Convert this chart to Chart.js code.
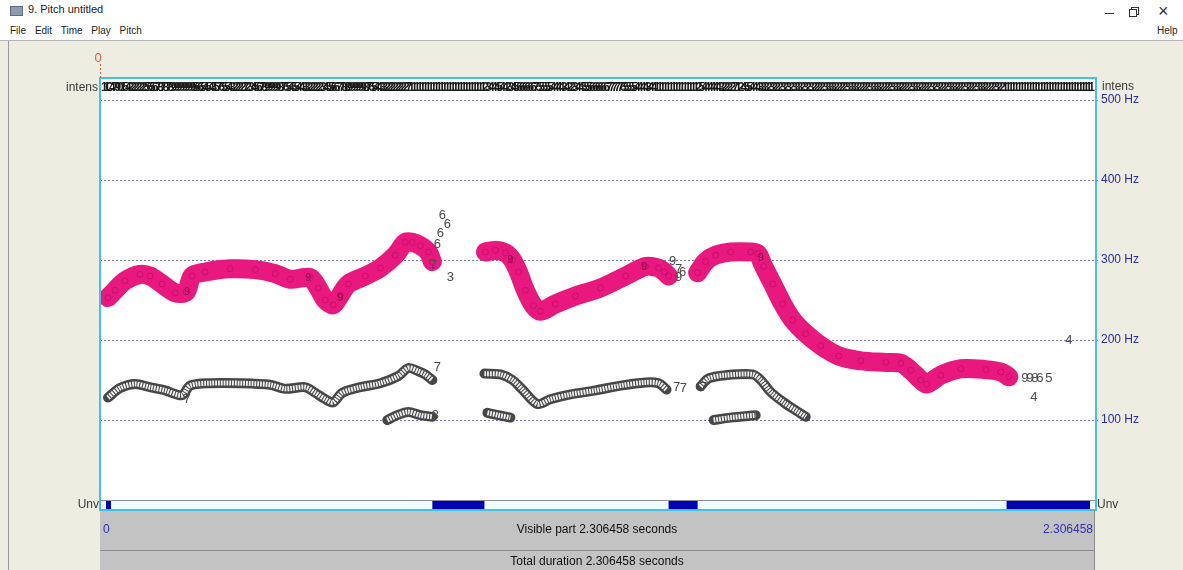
<!DOCTYPE html>
<html>
<head>
<meta charset="utf-8">
<title>9. Pitch untitled</title>
<script src="https://cdn.jsdelivr.net/npm/chart.js@4.4.1/dist/chart.umd.min.js"></script>
<style>
  html, body { margin: 0; padding: 0; width: 1183px; height: 570px; overflow: hidden;
    background: #eeede2; font-family: "Liberation Sans", Arial, sans-serif; }
  #titlebar { position: absolute; left: 0; top: 0; width: 1183px; height: 40px; background: #fff;
    border-bottom: 1px solid #b4b4b4; }
  #icon { position: absolute; left: 10px; top: 6px; width: 11px; height: 8px; background: #8d9bb0;
    border: 1px solid #5d6a80; }
  #title { position: absolute; left: 28px; top: 3px; font-size: 11px; color: #222; }
  #menu { position: absolute; left: 10px; top: 25px; font-size: 10px; color: #222; word-spacing: 6px; }
  #help { position: absolute; left: 1157px; top: 25px; font-size: 10px; color: #222; }
  #minbtn { position: absolute; left: 1105px; top: 13px; width: 9px; height: 1px; background: #333; }
  #maxbtn1 { position: absolute; left: 1131px; top: 7px; width: 6px; height: 6px; border: 1px solid #333; }
  #maxbtn2 { position: absolute; left: 1129px; top: 9px; width: 6px; height: 6px; border: 1px solid #333; background: #fff; }
  #closebtn { position: absolute; left: 1158px; top: 1px; font-size: 18px; color: #333; }
  #leftedge { position: absolute; left: 8px; top: 41px; width: 1px; height: 529px; background: #9a9a9a; }
  #chart { position: absolute; left: 0; top: 0; }
</style>
</head>
<body>
<div id="titlebar">
  <div id="icon"></div>
  <div id="title">9. Pitch untitled</div>
  <div id="menu">File Edit Time Play Pitch</div>
  <div id="help">Help</div>
  <div id="minbtn"></div>
  <div id="maxbtn1"></div>
  <div id="maxbtn2"></div>
  <div id="closebtn">×</div>
</div>
<div id="leftedge"></div>
<canvas id="chart" width="1183" height="570"></canvas>
<script>
// ---- time / frequency range of the pitch window ----
const totalDuration = 2.306458;
const hzTop = 527.5;
const hzTicks = [100, 200, 300, 400, 500];

// ---- selected pitch path (voiced stretches), seconds / Hz ----
const pathTimes1 = [0.0185, 0.0348, 0.058, 0.0927, 0.1159, 0.1437, 0.1739, 0.1994, 0.2133, 0.2434, 0.3014,
  0.3593, 0.4057, 0.4404, 0.4868, 0.5053, 0.5216, 0.5401, 0.5563, 0.5749, 0.6143, 0.6491, 0.6839, 0.707,
  0.7233, 0.7418, 0.7603, 0.7696];
const pathHz1 = [253, 262, 274, 282, 280, 270, 259, 260, 280, 285, 289,
  288, 283, 276, 278, 265, 250, 244, 256, 270, 280, 290, 306, 322,
  322, 318, 310, 298];

const pathTimes2 = [0.8925, 0.9157, 0.9388, 0.9551, 0.969, 0.9852, 1.0038, 1.02, 1.0547, 1.1011, 1.159,
  1.217, 1.2634, 1.2935, 1.3074, 1.3167];
const pathHz2 = [310, 312, 309, 300, 285, 262, 243, 236, 245, 255, 265,
  280, 292, 290, 285, 280];

const pathTimes3 = [1.3839, 1.4024, 1.4256, 1.4604, 1.5067, 1.523, 1.5369, 1.5578, 1.581, 1.6042, 1.6343,
  1.6691, 1.7108, 1.7618, 1.8197, 1.8545, 1.8777, 1.9008, 1.9148, 1.9472, 1.9936, 2.0515, 2.0863, 2.1048];
const pathHz3 = [284, 298, 306, 310, 310, 308, 292, 270, 245, 225, 208,
  193, 180, 174, 172, 171, 162, 150, 145, 156, 164, 163, 160, 154];

// ---- unselected candidates (sub-harmonic chains), seconds / Hz ----
const candTimesA = [0.0185, 0.0464, 0.0811, 0.1159, 0.1507, 0.1901, 0.2086, 0.255, 0.3245, 0.3941, 0.4289,
  0.4752, 0.4984, 0.5216, 0.5401, 0.561, 0.6027, 0.6491, 0.6908, 0.714, 0.7372, 0.7534, 0.7696];
const candHzA = [128, 140, 145, 141, 137, 131, 143, 146, 146, 144, 139,
  141, 134, 126, 122, 134, 141, 146, 155, 165, 161, 157, 150];

const candTimesA2 = [0.6653, 0.6885, 0.714, 0.7418, 0.7696];
const candHzA2 = [100, 106, 110, 106, 104];

const candTimesB = [0.8902, 0.9272, 0.9551, 0.9783, 1.013, 1.0431, 1.0895, 1.1475, 1.2054, 1.2634, 1.2935, 1.312];
const candHzB = [158, 157, 150, 138, 120, 126, 132, 137, 143, 147, 146, 138];

const candTimesB2 = [0.8971, 0.9226, 0.9504];
const candHzB2 = [109, 106, 103];

const candTimesC = [1.3909, 1.4094, 1.4488, 1.5114, 1.53, 1.5531, 1.5833, 1.6111, 1.6343];
const candHzC = [142, 152, 156, 157, 150, 135, 122, 112, 104];

const candTimesC2 = [1.421, 1.4604, 1.5184];
const candHzC2 = [100, 103, 106];

// ---- isolated candidate strengths written as digits ----
const strayTimes = [0.7928, 0.8044, 0.7882, 0.7812, 0.772, 0.8113, 1.326, 1.34, 1.349, 1.34,
  2.1418, 2.1534, 2.165, 2.1766, 2.1974, 2.1628, 2.2439,
  0.7812, 0.7766, 0.2017, 1.335, 1.351, 1.3979];
const strayHz = [356, 344, 333, 320, 293, 278, 298, 288, 285, 278,
  152, 152, 152, 152, 152, 128, 200,
  166, 106, 126, 141, 140, 141];
const strayDigits = ['6', '6', '6', '6', '7', '3', '9', '7', '6', '9',
  '9', '9', '8', '6', '5', '4', '4',
  '7', '3', '7', '7', '7', '7'];

// strengths printed inside the selected path
const pathMarkTimes = [0.2017, 0.482, 0.5563, 0.95, 1.53, 1.26];
const pathMarkHz = [260, 278, 252, 300, 303, 291];
const pathMarkDigits = ['9', '9', '9', '9', '9', '9'];

// ---- intensity row: one digit per analysis frame, grouped by stretch ----
const intensStart = [0.007, 0.7186, 0.8902, 1.2866, 1.3839, 2.0932];
const intensEnd = [0.7186, 0.8902, 1.2866, 1.3839, 2.0932, 2.2995];
const intensText = [
  '11C4790154222222565678787899999999566545435765543222272345678999998765455443322222345566778899999987654433222222227',
  '111111111111111111111111111',
  '2344454423456666667555554444342234455566666677777655554444344',
  '111111111111111',
  '2544444432222712455444333232223232333232322223333222233332222333322223332222333222232322233322232223332222322',
  '11111111111111111111111111111111'
];

// ---- unvoiced intervals ----
const unvStart = [0.0139, 0.7696, 1.3167, 2.0993];
const unvEnd = [0.0255, 0.8902, 1.3839, 2.2926];

const FONT = '"Liberation Sans", Arial, sans-serif';
const pts = (ts, fs) => ts.map((t, i) => ({ x: t, y: fs[i] }));

function pathSet(ts, fs) {
  return { data: pts(ts, fs), showLine: true, borderColor: '#e8187e', backgroundColor: '#e8187e',
    borderWidth: 19, borderCapStyle: 'round', borderJoinStyle: 'round', tension: 0.3,
    pointRadius: 3, pointBorderWidth: 1, pointBorderColor: 'rgba(120,0,60,0.3)',
    pointBackgroundColor: 'rgba(0,0,0,0)', order: 1 };
}
function chainOuter(ts, fs) {
  return { data: pts(ts, fs), showLine: true, borderColor: '#474747', borderWidth: 10,
    borderCapStyle: 'round', borderJoinStyle: 'round', tension: 0.3, pointRadius: 0, order: 3 };
}
function chainInner(ts, fs) {
  return { data: pts(ts, fs), showLine: true, borderColor: '#eeeeee', borderWidth: 5,
    borderDash: [1.8, 1.0], borderCapStyle: 'butt', tension: 0.3, pointRadius: 0, order: 2 };
}

const chains = [[candTimesA, candHzA], [candTimesA2, candHzA2], [candTimesB, candHzB], [candTimesB2, candHzB2],
  [candTimesC, candHzC], [candTimesC2, candHzC2]];

const datasets = [];
chains.forEach(([t, f]) => { datasets.push(chainOuter(t, f)); datasets.push(chainInner(t, f)); });
datasets.push(pathSet(pathTimes1, pathHz1));
datasets.push(pathSet(pathTimes2, pathHz2));
datasets.push(pathSet(pathTimes3, pathHz3));

const pitchWindow = {
  id: 'pitchWindow',
  beforeDraw(chart) {
    const { ctx, chartArea: a } = chart;
    const ys = chart.scales.y;
    ctx.save();
    ctx.fillStyle = '#ffffff';
    ctx.fillRect(a.left, a.top, a.right - a.left, a.bottom - a.top);
    ctx.strokeStyle = '#7878ac';
    ctx.lineWidth = 1;
    ctx.setLineDash([2, 2]);
    hzTicks.forEach(v => {
      const y = Math.round(ys.getPixelForValue(v)) + 0.5;
      ctx.beginPath(); ctx.moveTo(a.left, y); ctx.lineTo(a.right + 3, y); ctx.stroke();
    });
    ctx.restore();
  },
  afterDatasetsDraw(chart) {
    const { ctx } = chart;
    const xs = chart.scales.x, ys = chart.scales.y;
    ctx.save();
    ctx.textAlign = 'center';
    ctx.textBaseline = 'middle';
    ctx.font = '13px ' + FONT;
    ctx.fillStyle = '#4a4a4a';
    strayDigits.forEach((d, i) => {
      ctx.fillText(d, xs.getPixelForValue(strayTimes[i]), ys.getPixelForValue(strayHz[i]));
    });
    ctx.font = '11px ' + FONT;
    ctx.fillStyle = 'rgba(90,0,45,0.7)';
    pathMarkDigits.forEach((d, i) => {
      ctx.fillText(d, xs.getPixelForValue(pathMarkTimes[i]), ys.getPixelForValue(pathMarkHz[i]));
    });
    ctx.restore();
  },
  afterDraw(chart) {
    const { ctx, chartArea: a } = chart;
    const xs = chart.scales.x;
    ctx.save();

    // intensity digits along the top
    ctx.font = 'bold 12px ' + FONT;
    ctx.textAlign = 'center';
    ctx.textBaseline = 'middle';
    ctx.fillStyle = '#1a1a1a';
    intensText.forEach((s, k) => {
      const t0 = intensStart[k], t1 = intensEnd[k], n = s.length;
      for (let i = 0; i < n; i++) {
        const t = t0 + (t1 - t0) * (i + 0.5) / n;
        ctx.fillText(s[i], xs.getPixelForValue(t), a.top + 10);
      }
    });

    // voicing strip
    const sTop = a.bottom, sBot = a.bottom + 10;
    ctx.fillStyle = '#effcff';
    ctx.fillRect(a.left, sTop, a.right - a.left, sBot - sTop);
    ctx.fillStyle = '#0000b4';
    unvStart.forEach((t, i) => {
      const x0 = xs.getPixelForValue(t), x1 = xs.getPixelForValue(unvEnd[i]);
      ctx.fillRect(x0, sTop + 1, x1 - x0, sBot - sTop - 2);
    });
    ctx.strokeStyle = '#8a8a9e';
    ctx.lineWidth = 1;
    ctx.beginPath(); ctx.moveTo(a.left, sTop + 0.5); ctx.lineTo(a.right, sTop + 0.5); ctx.stroke();

    // frame of the pitch area
    ctx.strokeStyle = '#44c2e6';
    ctx.lineWidth = 2;
    ctx.strokeRect(a.left, a.top, a.right - a.left, sBot - a.top);

    // time panel
    const pRight = a.right - 2;
    ctx.fillStyle = '#c3c3c3';
    ctx.fillRect(a.left, sBot + 1, pRight - a.left, 570 - sBot - 1);
    ctx.strokeStyle = '#8c8c8c';
    ctx.lineWidth = 1;
    ctx.beginPath(); ctx.moveTo(a.left, 550.5); ctx.lineTo(pRight, 550.5); ctx.stroke();
    ctx.beginPath(); ctx.moveTo(pRight + 0.5, sBot); ctx.lineTo(pRight + 0.5, 570); ctx.stroke();

    ctx.font = '12px ' + FONT;
    ctx.fillStyle = '#111';
    ctx.textAlign = 'center';
    const cx = (a.left + pRight) / 2;
    ctx.fillText('Visible part ' + totalDuration + ' seconds', cx, 530);
    ctx.fillText('Total duration ' + totalDuration + ' seconds', cx, 562);
    ctx.fillStyle = '#3030b0';
    ctx.textAlign = 'left';
    ctx.fillText('0', a.left + 3, 530);
    ctx.textAlign = 'right';
    ctx.fillText(String(totalDuration), pRight - 1, 530);

    // side labels
    ctx.fillStyle = '#3a3a3a';
    ctx.textAlign = 'right';
    ctx.fillText('intens', a.left - 2, a.top + 10);
    ctx.fillText('Unv', a.left - 1, sTop + 5);
    ctx.textAlign = 'left';
    ctx.fillText('intens', a.right + 6, a.top + 9);
    ctx.fillText('Unv', a.right + 1, sTop + 5);

    // cursor at time zero
    ctx.fillStyle = '#e0584e';
    ctx.textAlign = 'center';
    ctx.font = '13px ' + FONT;
    ctx.fillText('0', a.left - 2, 58);
    ctx.strokeStyle = '#e0584e';
    ctx.setLineDash([2, 2]);
    ctx.beginPath(); ctx.moveTo(a.left + 0.5, 64); ctx.lineTo(a.left + 0.5, a.top); ctx.stroke();
    ctx.restore();
  }
};

new Chart(document.getElementById('chart'), {
  type: 'scatter',
  data: { datasets },
  plugins: [pitchWindow],
  options: {
    responsive: false,
    animation: false,
    events: [],
    layout: { padding: { left: 100, top: 78, right: 0, bottom: 70 } },
    plugins: { legend: { display: false }, tooltip: { enabled: false } },
    scales: {
      x: { type: 'linear', min: 0, max: totalDuration, display: false },
      y: {
        type: 'linear', position: 'right', min: 0, max: hzTop,
        afterBuildTicks: s => { s.ticks = hzTicks.map(v => ({ value: v })); },
        afterFit: s => { s.width = 87; },
        grid: { display: false, drawTicks: false },
        border: { display: false },
        ticks: { padding: 5, color: '#2a2aa0', font: { family: FONT, size: 12 },
          callback: v => v + ' Hz' }
      }
    }
  }
});
</script>
</body>
</html>
